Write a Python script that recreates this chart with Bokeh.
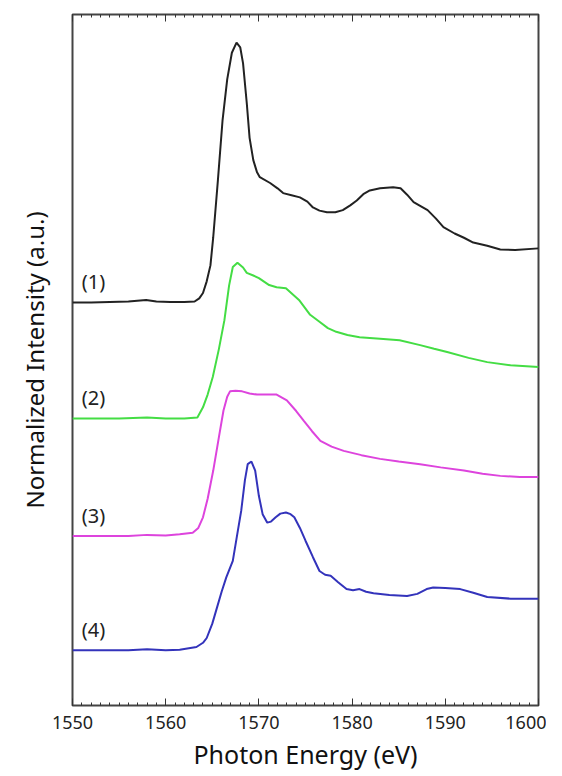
from bokeh.plotting import figure
from bokeh.models import (LinearAxis, SingleIntervalTicker, FixedTicker, Range1d,
                          ColumnDataSource, CustomJSTickFormatter)
from bokeh.core.properties import value
from bokeh.embed import file_html
from bokeh.resources import INLINE

# ---- data (normalized intensity) ----
e1 = [1550.0, 1552.0, 1554.0, 1556.0, 1557.9, 1559.0, 1560.5, 1562.0, 1563.1, 1563.6, 1564.0, 1564.4,
      1564.8, 1565.1, 1565.6, 1566.1, 1566.6, 1567.1, 1567.6, 1568.0, 1568.3, 1568.7, 1569.0, 1569.4,
      1569.8, 1570.1, 1571.2, 1572.0, 1572.6, 1573.5, 1574.4, 1575.2, 1575.8, 1576.5, 1577.3, 1578.2,
      1579.0, 1579.8, 1580.5, 1581.2, 1581.9, 1583.0, 1584.4, 1585.2, 1585.9, 1586.6, 1587.3, 1588.1,
      1589.0, 1589.8, 1591.0, 1592.0, 1593.0, 1594.5, 1595.9, 1597.5, 1600.0]
s1 = [0.00, 0.00, 0.01, 0.02, 0.05, 0.02, 0.01, 0.01, 0.02, 0.08, 0.18, 0.40,
      0.70, 1.23, 2.30, 3.43, 4.20, 4.70, 4.89, 4.80, 4.50, 3.75, 3.10, 2.68,
      2.45, 2.36, 2.25, 2.15, 2.06, 2.02, 1.98, 1.90, 1.79, 1.73, 1.70, 1.70,
      1.74, 1.83, 1.92, 2.04, 2.11, 2.15, 2.17, 2.15, 2.03, 1.89, 1.82, 1.74,
      1.58, 1.42, 1.30, 1.22, 1.13, 1.07, 1.00, 0.99, 1.02]

e2 = [1550.0, 1555.0, 1558.0, 1560.0, 1562.0, 1563.4, 1564.0, 1564.5, 1565.05, 1565.7, 1566.3, 1566.8,
      1567.2, 1567.7, 1568.3, 1568.7, 1569.4, 1570.0, 1571.1, 1571.9, 1572.9, 1574.3, 1575.5, 1576.5,
      1577.4, 1578.3, 1579.5, 1580.8, 1583.0, 1585.1, 1587.3, 1588.8, 1590.2, 1592.5, 1594.5, 1597.0, 1600.0]
s2 = [0.00, 0.00, 0.02, 0.00, 0.00, 0.02, 0.21, 0.45, 0.78, 1.30, 1.85, 2.50,
      2.85, 2.93, 2.84, 2.74, 2.69, 2.64, 2.51, 2.47, 2.45, 2.23, 1.95, 1.82,
      1.70, 1.63, 1.57, 1.53, 1.50, 1.47, 1.38, 1.31, 1.25, 1.14, 1.06, 1.00, 0.97]

e3 = [1550.0, 1556.0, 1558.0, 1560.0, 1561.5, 1562.9, 1563.5, 1564.0, 1564.5, 1565.1, 1565.7, 1566.2,
      1566.6, 1566.9, 1567.5, 1568.2, 1569.0, 1569.8, 1571.0, 1571.9, 1573.0, 1574.0, 1574.8, 1575.7,
      1576.6, 1577.8, 1579.1, 1581.0, 1583.0, 1585.0, 1587.3, 1589.5, 1592.0, 1594.0, 1595.9, 1598.0, 1600.0]
s3 = [0.00, 0.00, 0.02, 0.01, 0.03, 0.06, 0.15, 0.35, 0.70, 1.23, 1.85, 2.36,
      2.62, 2.72, 2.73, 2.72, 2.68, 2.66, 2.66, 2.66, 2.55, 2.35, 2.17, 1.97,
      1.79, 1.68, 1.60, 1.52, 1.45, 1.40, 1.35, 1.29, 1.23, 1.17, 1.13, 1.11, 1.11]

e4 = [1550.0, 1556.0, 1558.0, 1560.0, 1561.5, 1563.3, 1564.0, 1564.4, 1565.0, 1565.4, 1566.0, 1566.5,
      1567.2, 1567.6, 1568.1, 1568.5, 1568.8, 1569.2, 1569.6, 1570.0, 1570.4, 1570.9, 1571.3, 1571.8,
      1572.3, 1572.9, 1573.4, 1573.8, 1574.4, 1575.0, 1575.8, 1576.5, 1577.1, 1577.7, 1578.5, 1579.4,
      1580.1, 1580.8, 1581.5, 1582.3, 1584.0, 1585.9, 1587.0, 1588.0, 1588.7, 1590.0, 1591.6, 1593.0,
      1594.5, 1597.0, 1600.0]
s4 = [0.00, 0.00, 0.02, 0.00, 0.01, 0.06, 0.14, 0.23, 0.50, 0.74, 1.10, 1.37,
      1.68, 2.10, 2.62, 3.20, 3.50, 3.55, 3.38, 2.90, 2.56, 2.40, 2.42, 2.50,
      2.57, 2.59, 2.56, 2.50, 2.30, 2.06, 1.75, 1.49, 1.42, 1.40, 1.28, 1.15,
      1.13, 1.15, 1.10, 1.07, 1.04, 1.02, 1.06, 1.15, 1.18, 1.17, 1.15, 1.08,
      1.00, 0.97, 0.97]

labels = ["(1)", "(2)", "(3)", "(4)"]
offsets = [7.58, 5.40, 3.19, 1.04]
colors = ["#222222", "#44dd44", "#dd44dd", "#3333bb"]
label_x = 1551.0
label_dy = 0.39

FONT = "Noto Sans"

p = figure(width=546, height=776, output_backend="svg", toolbar_location=None,
           x_range=Range1d(1550, 1600), y_range=Range1d(0, 13),
           min_border_left=72, min_border_right=8, min_border_top=14, min_border_bottom=71)
p.grid.visible = False
p.outline_line_color = "#444444"
p.outline_line_width = 2
p.background_fill_color = "white"
p.border_fill_color = "white"

xa = p.xaxis[0]
xa.ticker = SingleIntervalTicker(interval=10, num_minor_ticks=10)
xa.axis_line_color = None
xa.major_tick_in = 7
xa.major_tick_out = 0
xa.minor_tick_in = 3
xa.minor_tick_out = 0
xa.major_tick_line_color = "#333333"
xa.minor_tick_line_color = "#333333"
xa.major_label_text_font = FONT
xa.major_label_text_font_size = "18px"
xa.major_label_text_color = "#222222"
xa.major_label_standoff = 10
xa.axis_label = "Photon Energy (eV)"
xa.axis_label_text_font = FONT
xa.axis_label_text_font_size = "25px"
xa.axis_label_text_font_style = "normal"
xa.axis_label_text_color = "#111111"
xa.axis_label_standoff = 5

top = LinearAxis(ticker=SingleIntervalTicker(interval=10, num_minor_ticks=10),
                 formatter=CustomJSTickFormatter(code="return ''"),
                 axis_line_color=None, major_tick_in=7, major_tick_out=0,
                 minor_tick_in=3, minor_tick_out=0,
                 major_tick_line_color="#333333", minor_tick_line_color="#333333",
                 major_label_standoff=0)
p.add_layout(top, "above")

ya = p.yaxis[0]
ya.ticker = FixedTicker(ticks=[])
ya.axis_line_color = None
ya.major_tick_line_color = None
ya.minor_tick_line_color = None
ya.major_label_standoff = 0
ya.axis_label = "Normalized Intensity (a.u.)"
ya.axis_label_text_font = FONT
ya.axis_label_text_font_size = "24px"
ya.axis_label_text_font_style = "normal"
ya.axis_label_text_color = "#111111"
ya.axis_label_standoff = 22

for e, s, off, c in zip([e1, e2, e3, e4], [s1, s2, s3, s4], offsets, colors):
    src = ColumnDataSource(dict(x=e, y=[v + off for v in s]))
    p.line("x", "y", source=src, line_color=c, line_width=2)

p.text(x=[label_x] * 4, y=[o + label_dy for o in offsets], text=labels,
       text_font=value(FONT), text_font_size="20px", text_color="#222222",
       text_baseline="middle", text_align="left")

open("out.html", "w").write(file_html(p, INLINE))
